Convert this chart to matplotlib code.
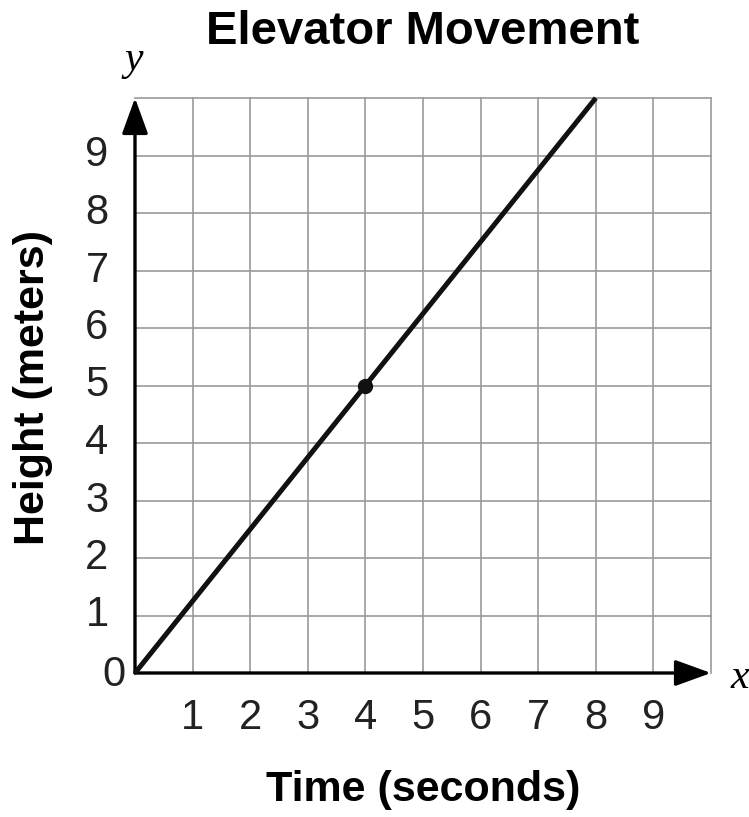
import numpy as np
import matplotlib.pyplot as plt

# data
time_s = [0, 4, 8]
height_m = [0, 5, 10]
point_x = [4]
point_y = [5]
x_ticks = [1, 2, 3, 4, 5, 6, 7, 8, 9]
y_ticks = [1, 2, 3, 4, 5, 6, 7, 8, 9]

plt.rcParams['font.family'] = ['Liberation Sans', 'DejaVu Sans']

fig = plt.figure(figsize=(7.49, 8.17), dpi=100)
ax = fig.add_axes([135/749, 1 - 673/817, 576/749, 575/817])
ax.set_xlim(0, 10)
ax.set_ylim(0, 10)
for s in ax.spines.values():
    s.set_visible(False)
ax.set_xticks([])
ax.set_yticks([])

# grid
for i in range(1, 11):
    ax.plot([i, i], [0, 10], color='#9a9a9a', lw=1.2, zorder=1, clip_on=False)
    ax.plot([0, 10], [i, i], color='#9a9a9a', lw=1.2, zorder=1, clip_on=False)

# axes with arrows
arr = dict(arrowstyle='-|>,head_length=1.1,head_width=0.4', lw=2.4, color='black',
           mutation_scale=20, shrinkA=0, shrinkB=0)
ax.annotate('', xy=(10, 0), xytext=(0, 0), arrowprops=arr, zorder=3, annotation_clip=False)
ax.annotate('', xy=(0, 10), xytext=(0, 0), arrowprops=arr, zorder=3, annotation_clip=False)

# the line and point
ax.plot(time_s, height_m, color='#111111', lw=3.6, solid_capstyle='butt', zorder=4, clip_on=False)
ax.plot(point_x, point_y, 'o', color='#111111', ms=10, zorder=5)

# tick labels
for t in x_ticks:
    ax.text(t, -0.78, str(t), ha='center', va='center', fontsize=30, color='#222222')
for t in y_ticks:
    ax.text(-0.66, t, str(t), ha='center', va='center', fontsize=30, color='#222222')
ax.text(-0.36, -0.03, '0', ha='center', va='center', fontsize=30, color='#222222')

# labels
ax.text(5.0, 11.15, 'Elevator Movement', ha='center', va='center', fontsize=34, fontweight='bold')
ax.text(5.0, -2.03, 'Time (seconds)', ha='center', va='center', fontsize=31, fontweight='bold')
ax.text(-1.77, 4.96, 'Height (meters)', ha='center', va='center', fontsize=31,
        fontweight='bold', rotation=90)
ax.text(-0.03, 10.66, 'y', ha='center', va='center', fontsize=30, style='italic',
        family='Liberation Serif')
ax.text(10.5, -0.09, 'x', ha='center', va='center', fontsize=30, style='italic',
        family='Liberation Serif')

plt.savefig('out.png', dpi=100)
